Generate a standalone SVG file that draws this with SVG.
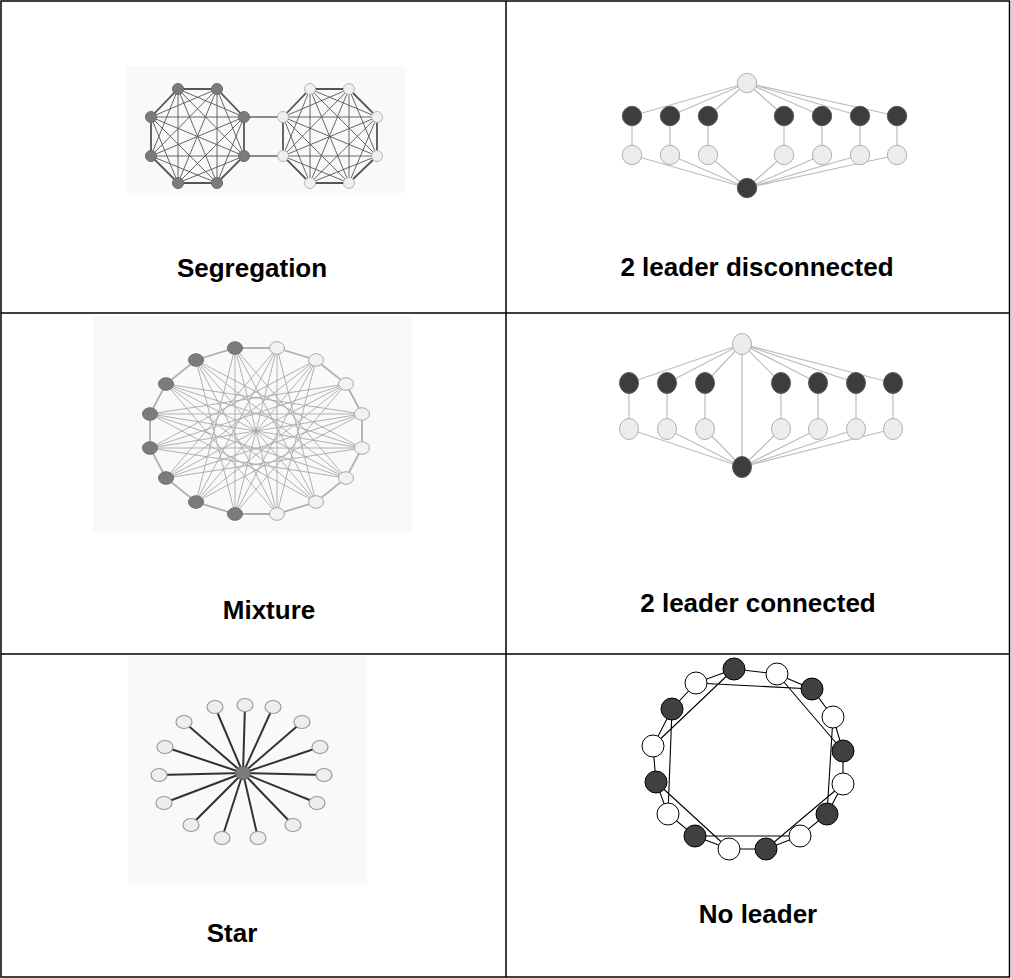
<svg xmlns="http://www.w3.org/2000/svg" width="1011" height="978" viewBox="0 0 1011 978">
<style>
.border{stroke:#000;stroke-width:1.5;fill:none}
.lbl{font-family:"Liberation Sans",Arial,sans-serif;font-weight:bold;font-size:26px;fill:#000;text-anchor:middle}
.bg{fill:#f9f9f9}
.seg-ring{stroke:#555;stroke-width:1.8;fill:none}
.seg-chord{stroke:#555;stroke-width:0.9;fill:none}
.seg-bridge{stroke:#666;stroke-width:1.5;fill:none}
.seg-d{fill:#7b7b7b;stroke:#6b6b6b}
.seg-l{fill:#efefef;stroke:#b8b8b8}
.ld-e{stroke:#bdbdbd;stroke-width:1.2;fill:none}
.ld-d{fill:#3d3d3d;stroke:#5a5a5a}
.ld-l{fill:#ececec;stroke:#b0b0b0}
.mx-ring{stroke:#b0b0b0;stroke-width:1.8;fill:none}
.mx-e{stroke:#a8a8a8;stroke-width:0.9;fill:none}
.mx-d{fill:#7b7b7b;stroke:#707070}
.mx-l{fill:#f1f1f1;stroke:#aaa}
.st-e{stroke:#333;stroke-width:2;fill:none}
.st-c{fill:#7b7b7b;stroke:#666}
.st-l{fill:#eee;stroke:#9a9a9a;stroke-width:1.2}
.nl-e{stroke:#000;stroke-width:1.1;fill:none}
.nl-d{fill:#404040;stroke:#000}
.nl-w{fill:#fff;stroke:#000}
</style>

<g id="table">
<rect class="border" x="1" y="1" width="1008.5" height="976"/>
<line class="border" x1="506" y1="1" x2="506" y2="977"/>
<line class="border" x1="1" y1="313" x2="1009.5" y2="313"/>
<line class="border" x1="1" y1="654" x2="1009.5" y2="654"/>
</g>

<g id="backgrounds">
<rect class="bg" x="126" y="66" width="279" height="127"/>
<rect class="bg" x="93" y="316" width="319" height="216"/>
<rect class="bg" x="128" y="656" width="239" height="229"/>
</g>

<!-- Segregation -->
<g id="segregation">
<g id="seg-connectors">
<path class="seg-chord" d="M178 89L244 117M178 89L244 156M178 89L217 183M178 89L178 183M178 89L151 156M217 89L244 156M217 89L217 183M217 89L178 183M217 89L151 156M217 89L151 117M244 117L217 183M244 117L178 183M244 117L151 156M244 117L151 117M244 156L178 183M244 156L151 156M244 156L151 117M217 183L151 156M217 183L151 117M178 183L151 117"/>
<path class="seg-chord" d="M310 89L377 117M310 89L377 156M310 89L349 183M310 89L310 183M310 89L283 156M349 89L377 156M349 89L349 183M349 89L310 183M349 89L283 156M349 89L283 117M377 117L349 183M377 117L310 183M377 117L283 156M377 117L283 117M377 156L310 183M377 156L283 156M377 156L283 117M349 183L283 156M349 183L283 117M310 183L283 117"/>
<path class="seg-ring" d="M178 89L217 89L244 117L244 156L217 183L178 183L151 156L151 117Z"/>
<path class="seg-ring" d="M310 89L349 89L377 117L377 156L349 183L310 183L283 156L283 117Z"/>
<path class="seg-bridge" d="M244 117L283 117M244 156L283 156"/>
</g>
<g id="seg-L1"><circle class="seg-d" cx="178" cy="89" r="5.5"/></g>
<g id="seg-L2"><circle class="seg-d" cx="217" cy="89" r="5.5"/></g>
<g id="seg-L3"><circle class="seg-d" cx="244" cy="117" r="5.5"/></g>
<g id="seg-L4"><circle class="seg-d" cx="244" cy="156" r="5.5"/></g>
<g id="seg-L5"><circle class="seg-d" cx="217" cy="183" r="5.5"/></g>
<g id="seg-L6"><circle class="seg-d" cx="178" cy="183" r="5.5"/></g>
<g id="seg-L7"><circle class="seg-d" cx="151" cy="156" r="5.5"/></g>
<g id="seg-L8"><circle class="seg-d" cx="151" cy="117" r="5.5"/></g>
<g id="seg-R1"><circle class="seg-l" cx="310" cy="89" r="5.5"/></g>
<g id="seg-R2"><circle class="seg-l" cx="349" cy="89" r="5.5"/></g>
<g id="seg-R3"><circle class="seg-l" cx="377" cy="117" r="5.5"/></g>
<g id="seg-R4"><circle class="seg-l" cx="377" cy="156" r="5.5"/></g>
<g id="seg-R5"><circle class="seg-l" cx="349" cy="183" r="5.5"/></g>
<g id="seg-R6"><circle class="seg-l" cx="310" cy="183" r="5.5"/></g>
<g id="seg-R7"><circle class="seg-l" cx="283" cy="156" r="5.5"/></g>
<g id="seg-R8"><circle class="seg-l" cx="283" cy="117" r="5.5"/></g>
<text class="lbl" x="252" y="277">Segregation</text>
</g>

<!-- 2 leader disconnected -->
<g id="leader-disconnected">
<g id="ld-connectors">
<path class="ld-e" d="M747 83L632 116M747 83L670 116M747 83L708 116M747 83L784 116M747 83L822 116M747 83L860 116M747 83L897 116"/>
<path class="ld-e" d="M632 116V155M670 116V155M708 116V155M784 116V155M822 116V155M860 116V155M897 116V155"/>
<path class="ld-e" d="M632 155L747 188M670 155L747 188M708 155L747 188M784 155L747 188M822 155L747 188M860 155L747 188M897 155L747 188"/>
</g>
<g id="ld-top"><circle class="ld-l" cx="747" cy="83" r="9.7"/></g>
<g id="ld-d1"><circle class="ld-d" cx="632" cy="116" r="9.7"/></g>
<g id="ld-d2"><circle class="ld-d" cx="670" cy="116" r="9.7"/></g>
<g id="ld-d3"><circle class="ld-d" cx="708" cy="116" r="9.7"/></g>
<g id="ld-d4"><circle class="ld-d" cx="784" cy="116" r="9.7"/></g>
<g id="ld-d5"><circle class="ld-d" cx="822" cy="116" r="9.7"/></g>
<g id="ld-d6"><circle class="ld-d" cx="860" cy="116" r="9.7"/></g>
<g id="ld-d7"><circle class="ld-d" cx="897" cy="116" r="9.7"/></g>
<g id="ld-l1"><circle class="ld-l" cx="632" cy="155" r="9.7"/></g>
<g id="ld-l2"><circle class="ld-l" cx="670" cy="155" r="9.7"/></g>
<g id="ld-l3"><circle class="ld-l" cx="708" cy="155" r="9.7"/></g>
<g id="ld-l4"><circle class="ld-l" cx="784" cy="155" r="9.7"/></g>
<g id="ld-l5"><circle class="ld-l" cx="822" cy="155" r="9.7"/></g>
<g id="ld-l6"><circle class="ld-l" cx="860" cy="155" r="9.7"/></g>
<g id="ld-l7"><circle class="ld-l" cx="897" cy="155" r="9.7"/></g>
<g id="ld-bottom"><circle class="ld-d" cx="747" cy="188" r="9.7"/></g>
<text class="lbl" x="757" y="276">2 leader disconnected</text>
</g>

<!-- Mixture -->
<g id="mixture">
<g id="mx-connectors">
<path class="mx-ring" d="M277 348L316 360L346 384L362 414L362 448L346 478L316 502L277 514L235 514L196 502L166 478L150 448L150 414L166 384L196 360L235 348Z"/>
<path class="mx-e" d="M277 348L235 514M316 360L196 502M346 384L166 478M362 414L150 448M362 448L150 414M346 478L166 384M316 502L196 360M277 514L235 348"/>
<path class="mx-e" d="M277 348L277 514M316 360L235 514M346 384L196 502M362 414L166 478M362 448L150 448M346 478L150 414M316 502L166 384M277 514L196 360M235 514L235 348M196 502L277 348M166 478L316 360M150 448L346 384M150 414L362 414M166 384L362 448M196 360L346 478M235 348L316 502"/>
<path class="mx-e" d="M277 348L316 502M316 360L277 514M346 384L235 514M362 414L196 502M362 448L166 478M346 478L150 448M316 502L150 414M277 514L166 384M235 514L196 360M196 502L235 348M166 478L277 348M150 448L316 360M150 414L346 384M166 384L362 414M196 360L362 448M235 348L346 478"/>
</g>
<g id="mx-l0"><ellipse class="mx-l" cx="277" cy="348" rx="7.5" ry="6.3"/></g>
<g id="mx-l1"><ellipse class="mx-l" cx="316" cy="360" rx="7.5" ry="6.3"/></g>
<g id="mx-l2"><ellipse class="mx-l" cx="346" cy="384" rx="7.5" ry="6.3"/></g>
<g id="mx-l3"><ellipse class="mx-l" cx="362" cy="414" rx="7.5" ry="6.3"/></g>
<g id="mx-l4"><ellipse class="mx-l" cx="362" cy="448" rx="7.5" ry="6.3"/></g>
<g id="mx-l5"><ellipse class="mx-l" cx="346" cy="478" rx="7.5" ry="6.3"/></g>
<g id="mx-l6"><ellipse class="mx-l" cx="316" cy="502" rx="7.5" ry="6.3"/></g>
<g id="mx-l7"><ellipse class="mx-l" cx="277" cy="514" rx="7.5" ry="6.3"/></g>
<g id="mx-d8"><ellipse class="mx-d" cx="235" cy="514" rx="7.5" ry="6.3"/></g>
<g id="mx-d9"><ellipse class="mx-d" cx="196" cy="502" rx="7.5" ry="6.3"/></g>
<g id="mx-d10"><ellipse class="mx-d" cx="166" cy="478" rx="7.5" ry="6.3"/></g>
<g id="mx-d11"><ellipse class="mx-d" cx="150" cy="448" rx="7.5" ry="6.3"/></g>
<g id="mx-d12"><ellipse class="mx-d" cx="150" cy="414" rx="7.5" ry="6.3"/></g>
<g id="mx-d13"><ellipse class="mx-d" cx="166" cy="384" rx="7.5" ry="6.3"/></g>
<g id="mx-d14"><ellipse class="mx-d" cx="196" cy="360" rx="7.5" ry="6.3"/></g>
<g id="mx-d15"><ellipse class="mx-d" cx="235" cy="348" rx="7.5" ry="6.3"/></g>
<text class="lbl" x="269" y="619">Mixture</text>
</g>

<!-- 2 leader connected -->
<g id="leader-connected">
<g id="lc-connectors">
<path class="ld-e" d="M742 344L629 383M742 344L667 383M742 344L705 383M742 344L781 383M742 344L818 383M742 344L856 383M742 344L893 383"/>
<path class="ld-e" d="M629 383V429M667 383V429M705 383V429M781 383V429M818 383V429M856 383V429M893 383V429"/>
<path class="ld-e" d="M629 429L742 467M667 429L742 467M705 429L742 467M781 429L742 467M818 429L742 467M856 429L742 467M893 429L742 467"/>
<path class="ld-e" d="M742 344V467"/>
</g>
<g id="lc-top"><ellipse class="ld-l" cx="742" cy="344" rx="9.5" ry="10.5"/></g>
<g id="lc-d1"><ellipse class="ld-d" cx="629" cy="383" rx="9.5" ry="10.5"/></g>
<g id="lc-d2"><ellipse class="ld-d" cx="667" cy="383" rx="9.5" ry="10.5"/></g>
<g id="lc-d3"><ellipse class="ld-d" cx="705" cy="383" rx="9.5" ry="10.5"/></g>
<g id="lc-d4"><ellipse class="ld-d" cx="781" cy="383" rx="9.5" ry="10.5"/></g>
<g id="lc-d5"><ellipse class="ld-d" cx="818" cy="383" rx="9.5" ry="10.5"/></g>
<g id="lc-d6"><ellipse class="ld-d" cx="856" cy="383" rx="9.5" ry="10.5"/></g>
<g id="lc-d7"><ellipse class="ld-d" cx="893" cy="383" rx="9.5" ry="10.5"/></g>
<g id="lc-l1"><ellipse class="ld-l" cx="629" cy="429" rx="9.5" ry="10.5"/></g>
<g id="lc-l2"><ellipse class="ld-l" cx="667" cy="429" rx="9.5" ry="10.5"/></g>
<g id="lc-l3"><ellipse class="ld-l" cx="705" cy="429" rx="9.5" ry="10.5"/></g>
<g id="lc-l4"><ellipse class="ld-l" cx="781" cy="429" rx="9.5" ry="10.5"/></g>
<g id="lc-l5"><ellipse class="ld-l" cx="818" cy="429" rx="9.5" ry="10.5"/></g>
<g id="lc-l6"><ellipse class="ld-l" cx="856" cy="429" rx="9.5" ry="10.5"/></g>
<g id="lc-l7"><ellipse class="ld-l" cx="893" cy="429" rx="9.5" ry="10.5"/></g>
<g id="lc-bottom"><ellipse class="ld-d" cx="742" cy="467" rx="9.5" ry="10.5"/></g>
<text class="lbl" x="758" y="612">2 leader connected</text>
</g>

<!-- Star -->
<g id="star">
<g id="st-connectors">
<path class="st-e" d="M243 773L245 705M243 773L273 707M243 773L302 722M243 773L320 747M243 773L324 775M243 773L317 803M243 773L293 825M243 773L258 838M243 773L222 838M243 773L191 825M243 773L164 803M243 773L159 775M243 773L165 747M243 773L184 722M243 773L215 707"/>
</g>
<g id="st-1"><ellipse class="st-l" cx="245" cy="705" rx="8" ry="6.5"/></g>
<g id="st-2"><ellipse class="st-l" cx="273" cy="707" rx="8" ry="6.5"/></g>
<g id="st-3"><ellipse class="st-l" cx="302" cy="722" rx="8" ry="6.5"/></g>
<g id="st-4"><ellipse class="st-l" cx="320" cy="747" rx="8" ry="6.5"/></g>
<g id="st-5"><ellipse class="st-l" cx="324" cy="775" rx="8" ry="6.5"/></g>
<g id="st-6"><ellipse class="st-l" cx="317" cy="803" rx="8" ry="6.5"/></g>
<g id="st-7"><ellipse class="st-l" cx="293" cy="825" rx="8" ry="6.5"/></g>
<g id="st-8"><ellipse class="st-l" cx="258" cy="838" rx="8" ry="6.5"/></g>
<g id="st-9"><ellipse class="st-l" cx="222" cy="838" rx="8" ry="6.5"/></g>
<g id="st-10"><ellipse class="st-l" cx="191" cy="825" rx="8" ry="6.5"/></g>
<g id="st-11"><ellipse class="st-l" cx="164" cy="803" rx="8" ry="6.5"/></g>
<g id="st-12"><ellipse class="st-l" cx="159" cy="775" rx="8" ry="6.5"/></g>
<g id="st-13"><ellipse class="st-l" cx="165" cy="747" rx="8" ry="6.5"/></g>
<g id="st-14"><ellipse class="st-l" cx="184" cy="722" rx="8" ry="6.5"/></g>
<g id="st-15"><ellipse class="st-l" cx="215" cy="707" rx="8" ry="6.5"/></g>
<g id="st-center"><ellipse class="st-c" cx="243" cy="773" rx="7.5" ry="6.5"/></g>
<text class="lbl" x="232" y="942">Star</text>
</g>

<!-- No leader -->
<g id="no-leader">
<g id="nl-connectors">
<path class="nl-e" d="M696 683L734 669L777 674L812 689L833 717L843 751L843 784L827 814L800 836L766 849L729 849L695 836L668 814L656 782L653 746L672 709Z"/>
<path class="nl-e" d="M696 683L812 689M777 674L843 751M833 717L827 814M843 784L766 849M800 836L695 836M729 849L656 782M668 814L672 709M653 746L734 669"/>
</g>
<g id="nl-1"><circle class="nl-w" cx="696" cy="683" r="11"/></g>
<g id="nl-2"><circle class="nl-d" cx="734" cy="669" r="11"/></g>
<g id="nl-3"><circle class="nl-w" cx="777" cy="674" r="11"/></g>
<g id="nl-4"><circle class="nl-d" cx="812" cy="689" r="11"/></g>
<g id="nl-5"><circle class="nl-w" cx="833" cy="717" r="11"/></g>
<g id="nl-6"><circle class="nl-d" cx="843" cy="751" r="11"/></g>
<g id="nl-7"><circle class="nl-w" cx="843" cy="784" r="11"/></g>
<g id="nl-8"><circle class="nl-d" cx="827" cy="814" r="11"/></g>
<g id="nl-9"><circle class="nl-w" cx="800" cy="836" r="11"/></g>
<g id="nl-10"><circle class="nl-d" cx="766" cy="849" r="11"/></g>
<g id="nl-11"><circle class="nl-w" cx="729" cy="849" r="11"/></g>
<g id="nl-12"><circle class="nl-d" cx="695" cy="836" r="11"/></g>
<g id="nl-13"><circle class="nl-w" cx="668" cy="814" r="11"/></g>
<g id="nl-14"><circle class="nl-d" cx="656" cy="782" r="11"/></g>
<g id="nl-15"><circle class="nl-w" cx="653" cy="746" r="11"/></g>
<g id="nl-16"><circle class="nl-d" cx="672" cy="709" r="11"/></g>
<text class="lbl" x="758" y="923">No leader</text>
</g>
</svg>
